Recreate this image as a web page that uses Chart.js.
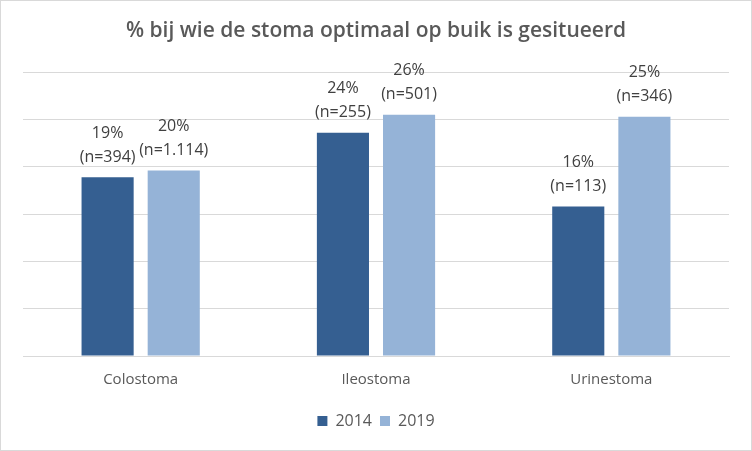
<!DOCTYPE html>
<html>
<head>
<meta charset="utf-8">
<script src="https://cdn.jsdelivr.net/npm/chart.js@4/dist/chart.umd.min.js"></script>
<style>
  body { margin: 0; background: #fff; }
  #wrap { width: 752px; height: 451px; box-sizing: border-box; border: 1px solid #d9d9d9; }
</style>
</head>
<body>
<div id="wrap"><canvas id="chart"></canvas></div>
<script>
const categories = ['Colostoma', 'Ileostoma', 'Urinestoma'];
const values2014 = [18.9, 23.6, 15.8];
const values2019 = [19.6, 25.5, 25.3];
const pct2014 = ['19%', '24%', '16%'];
const pct2019 = ['20%', '26%', '25%'];
const n2014 = ['(n=394)', '(n=255)', '(n=113)'];
const n2019 = ['(n=1.114)', '(n=501)', '(n=346)'];

const fontFamily = '"Open Sans", "Noto Sans", sans-serif';

// labels boven de staven, twee regels
const barLabels = {
  id: 'barLabels',
  afterDatasetsDraw(chart) {
    const ctx = chart.ctx;
    const texts = [[pct2014, n2014], [pct2019, n2019]];
    ctx.save();
    ctx.font = '16px ' + fontFamily;
    ctx.fillStyle = '#404040';
    ctx.textAlign = 'center';
    ctx.textBaseline = 'middle';
    chart.data.datasets.forEach((ds, i) => {
      chart.getDatasetMeta(i).data.forEach((bar, j) => {
        ctx.fillText(texts[i][1][j], bar.x, bar.y - 20);
        ctx.fillText(texts[i][0][j], bar.x, bar.y - 44);
      });
    });
    ctx.restore();
  }
};

new Chart(document.getElementById('chart'), {
  type: 'bar',
  data: {
    labels: categories,
    datasets: [
      { label: '2014', data: values2014, backgroundColor: '#355f91' },
      { label: '2019', data: values2019, backgroundColor: '#95b3d7' }
    ]
  },
  options: {
    responsive: true,
    maintainAspectRatio: false,
    animation: false,
    datasets: { bar: { categoryPercentage: 0.562, barPercentage: 0.788 } },
    layout: { padding: { left: 22, right: 22, top: 0, bottom: 11 } },
    plugins: {
      title: {
        display: true,
        text: '% bij wie de stoma optimaal op buik is gesitueerd',
        color: '#595959',
        font: { family: fontFamily, size: 21, weight: '600' },
        padding: { top: 17, bottom: 29 }
      },
      legend: {
        position: 'bottom',
        labels: {
          color: '#595959',
          font: { family: fontFamily, size: 16 },
          boxWidth: 10,
          boxHeight: 10,
          padding: 8
        }
      },
      tooltip: { enabled: false }
    },
    scales: {
      x: {
        grid: { display: false },
        border: { display: true, color: '#d9d9d9' },
        ticks: { color: '#595959', font: { family: fontFamily, size: 15 }, padding: 7 },
        afterFit(scale) { scale.height += 9; }
      },
      y: {
        min: 0,
        max: 30,
        ticks: { display: false, stepSize: 5 },
        grid: { color: '#d9d9d9', drawTicks: false },
        border: { display: false }
      }
    }
  },
  plugins: [barLabels]
});
</script>
</body>
</html>
